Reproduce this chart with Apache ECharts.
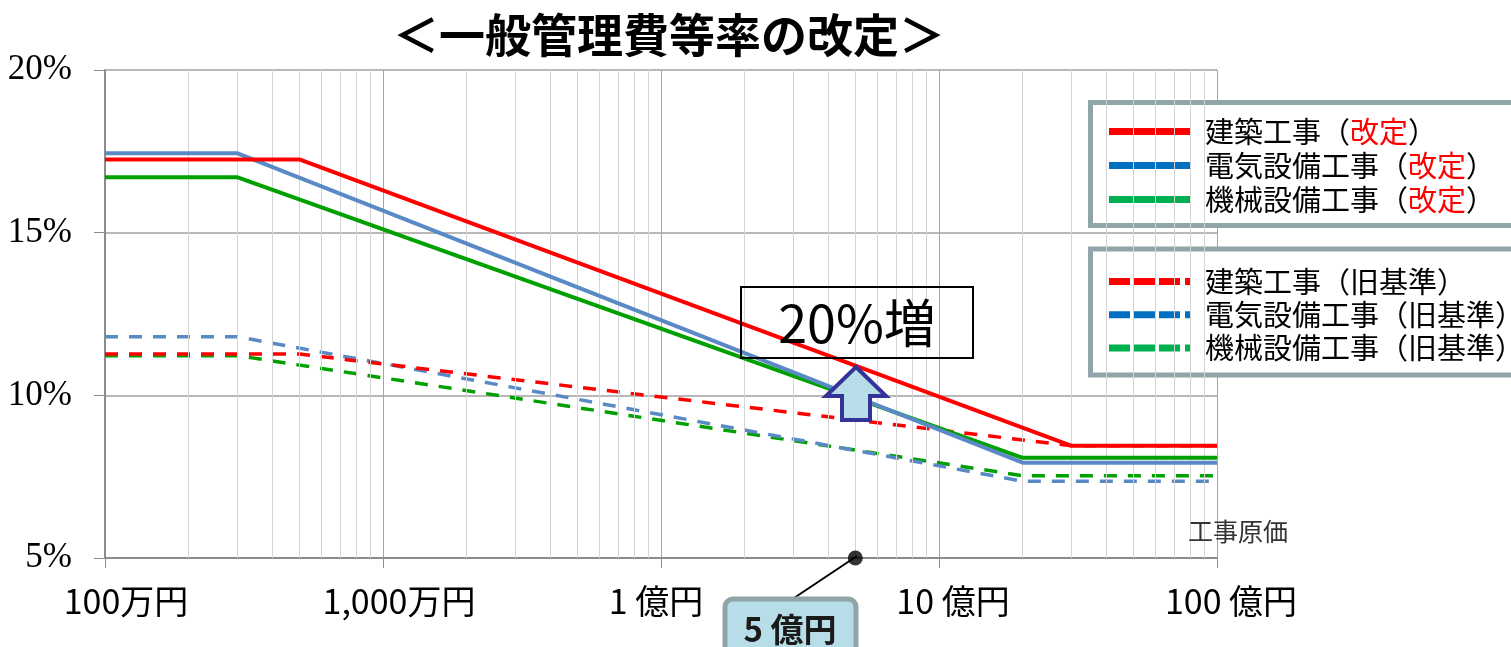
<!DOCTYPE html>
<html>
<head>
<meta charset="utf-8">
<script src="https://cdn.jsdelivr.net/npm/echarts@6/dist/echarts.min.js"></script>
<style>
html,body{margin:0;padding:0;background:#fff;}
#chart{width:1511px;height:647px;}
</style>
</head>
<body>
<div id="chart"></div>
<script>
// ---- data ----
const titleText = '＜一般管理費等率の改定＞';
const xTickValues = [1e6, 1e7, 1e8, 1e9, 1e10];
const xTickLabels = ['100万円', '1,000万円', '1 億円', '10 億円', '100 億円'];
const yTickLabelSuffix = '%';
const seriesNames = ['建築工事（改定）', '電気設備工事（改定）', '機械設備工事（改定）',
                     '建築工事（旧基準）', '電気設備工事（旧基準）', '機械設備工事（旧基準）'];
// 工事原価 breakpoints (円)
const costBuild = [1e6, 5e6, 3e9, 1e10];
const costEquip = [1e6, 3e6, 2e9, 1e10];
// 一般管理費等率 (%)
const buildNew = [17.25, 17.25, 8.45, 8.45];
const elecNew  = [17.44, 17.44, 7.93, 7.93];
const mechNew  = [16.70, 16.70, 8.08, 8.08];
const buildOld = [11.27, 11.27, 8.45, 8.45];
const elecOld  = [11.80, 11.80, 7.36, 7.36];
const mechOld  = [11.22, 11.22, 7.53, 7.53];
const markedCost = [5e8];
const markedLabel = '5 億円';
const noteText = '20%増';
const axisNameText = '工事原価';

// ---- chart ----
const JP = '"Noto Sans CJK JP", "Noto Sans", sans-serif';
const chart = echarts.init(document.getElementById('chart'), null, {renderer: 'canvas'});

function pairs(xs, ys) { return xs.map((x, i) => [x, ys[i]]); }

const lineColors = ['#FF0000', '#5A8AC6', '#00A000', '#FF0000', '#5A8AC6', '#00A000'];
const legendColors = ['#FF0000', '#0070C0', '#00B050', '#FF0000', '#0070C0', '#00B050'];
const seriesData = [
  pairs(costBuild, buildNew), pairs(costEquip, elecNew), pairs(costEquip, mechNew),
  pairs(costBuild, buildOld), pairs(costEquip, elecOld), pairs(costEquip, mechOld)
];

// minor grid lines at 2..9 x 10^k
const minorLines = [];
for (let k = 6; k < 10; k++) {
  for (let m = 2; m <= 9; m++) minorLines.push({xAxis: m * Math.pow(10, k)});
}

const xShift = [21, 16, -5, 14, 14];
const xRich = {};
xShift.forEach((s, i) => {
  xRich['l' + i] = {
    fontSize: 34, fontFamily: JP, color: '#000',
    padding: s >= 0 ? [0, 0, 0, 2 * s] : [0, -2 * s, 0, 0]
  };
});

const series = [];
series.push({
  name: '_grid', type: 'line', data: [], silent: true, z: 1,
  markLine: {
    silent: true, symbol: ['none', 'none'], animation: false,
    label: {show: false},
    lineStyle: {color: '#d4d4d4', type: 'solid', width: 1},
    emphasis: {disabled: true},
    data: minorLines
  }
});
// dashed first (below), then solid
for (let i = 5; i >= 0; i--) {
  const dashed = i >= 3;
  series.push({
    name: seriesNames[i], type: 'line', data: seriesData[i],
    symbol: 'none', smooth: false, animation: false,
    z: dashed ? 3 : 5,
    lineStyle: {color: lineColors[i], width: dashed ? 3.5 : 4, type: dashed ? [13, 11] : 'solid'},
    itemStyle: {color: lineColors[i]}
  });
}
series.push({
  name: '_mark', type: 'scatter', data: markedCost.map(v => [v, 5]),
  symbol: 'circle', symbolSize: 15, clip: false, z: 10, silent: true,
  itemStyle: {color: '#000'}
});

const solidIcon = 'rect';
const dashIcon = 'path://M0,0L21,0L21,7L0,7Z M25,0L46,0L46,7L25,7Z M50,0L71,0L71,7L50,7Z M76,0L82,0L82,7L76,7Z';

const legendRich = {
  k: {color: '#000', fontSize: 29, fontFamily: JP, padding: [0, 0, 0, 9]},
  t: {color: '#000', fontSize: 29, fontFamily: JP},
  r: {color: '#FF0000', fontSize: 29, fontFamily: JP}
};
function legendFmt(name) {
  const m = name.match(/^(.*?)（(.*)）$/);
  const cls = m[2] === '改定' ? 'r' : 't';
  return '{k|' + m[1] + '（}{' + cls + '|' + m[2] + '}{t|）}';
}
function legendBox(idxs, top, pad, gap) {
  return {
    orient: 'vertical', left: 1090.5, top: top, padding: pad,
    itemWidth: 82, itemHeight: 7, itemGap: gap,
    backgroundColor: '#fff', borderColor: '#8FA5A7', borderWidth: 5, borderRadius: 0,
    selectedMode: false, formatter: legendFmt,
    textStyle: {rich: legendRich},
    data: idxs.map(i => ({
      name: seriesNames[i],
      icon: i >= 3 ? dashIcon : solidIcon,
      itemStyle: {color: legendColors[i], borderWidth: 0}
    }))
  };
}

const option = {
  backgroundColor: '#fff',
  animation: false,
  title: {
    text: titleText, left: 664, top: 7, textAlign: 'center',
    textStyle: {fontSize: 46, fontWeight: 'bold', fontFamily: JP, color: '#000'}
  },
  grid: {left: 105, top: 70, width: 1112, height: 488, containLabel: false},
  legend: [
    legendBox([0, 1, 2], 102.5, [14.5, 60, 11.5, 18.5], 5),
    legendBox([3, 4, 5], 249, [18, 60, 12.5, 18.5], 4.3)
  ],
  xAxis: {
    type: 'log', logBase: 10, min: 1e6, max: 1e10,
    axisLine: {show: true, onZero: false, lineStyle: {color: '#8c8c8c', width: 2}},
    axisTick: {show: true, length: 10, inside: false, lineStyle: {color: '#8c8c8c', width: 1}},
    splitLine: {show: true, lineStyle: {color: '#a6a6a6', width: 1}},
    minorTick: {show: false},
    axisLabel: {
      margin: 26, fontSize: 34, fontFamily: JP, color: '#000',
      formatter: function (v) {
        const i = xTickValues.findIndex(t => Math.abs(Math.log10(t) - Math.log10(v)) < 1e-6);
        return i < 0 ? '' : '{l' + i + '|' + xTickLabels[i] + '}';
      },
      rich: xRich
    }
  },
  yAxis: {
    type: 'value', min: 5, max: 20, interval: 5,
    axisLine: {show: true, lineStyle: {color: '#8c8c8c', width: 2}},
    axisTick: {show: true, length: 11, inside: false, lineStyle: {color: '#8c8c8c', width: 1}},
    splitLine: {show: true, lineStyle: {color: '#a0a0a0', width: 1.5}},
    axisLabel: {
      margin: 33, fontSize: 35, fontFamily: '"Liberation Serif", serif', color: '#000',
      formatter: '{value}' + yTickLabelSuffix
    }
  },
  series: series,
  graphic: [
    {type: 'text', left: 1188, top: 519, z: 20,
     style: {text: axisNameText, fontSize: 25, fontFamily: JP, fill: '#333'}},
    {type: 'rect', z: 20, shape: {x: 741, y: 287, width: 232, height: 71},
     style: {fill: 'none', stroke: '#000', lineWidth: 2}},
    {type: 'text', z: 21, x: 857, y: 323,
     style: {text: noteText, fontSize: 52, fontFamily: JP, fill: '#000', align: 'center', verticalAlign: 'middle'}},
    {type: 'polygon', z: 22,
     shape: {points: [[856, 367], [886, 396], [870, 396], [870, 420], [842, 420], [842, 396], [826, 396]]},
     style: {fill: '#B7DEE8', stroke: '#333399', lineWidth: 4, lineJoin: 'miter'}},
    {type: 'line', z: 20, shape: {x1: 857, y1: 556, x2: 791, y2: 600},
     style: {stroke: '#000', lineWidth: 2}},
    {type: 'rect', z: 21, shape: {x: 725, y: 599, width: 131, height: 62, r: 8},
     style: {fill: '#B7DEE8', stroke: '#8FA5A7', lineWidth: 5}},
    {type: 'text', z: 22, x: 790, y: 629,
     style: {text: markedLabel, fontSize: 33, fontWeight: 'bold', fontFamily: JP, fill: '#1a1a1a', align: 'center', verticalAlign: 'middle'}}
  ]
};
chart.setOption(option);
</script>
</body>
</html>
